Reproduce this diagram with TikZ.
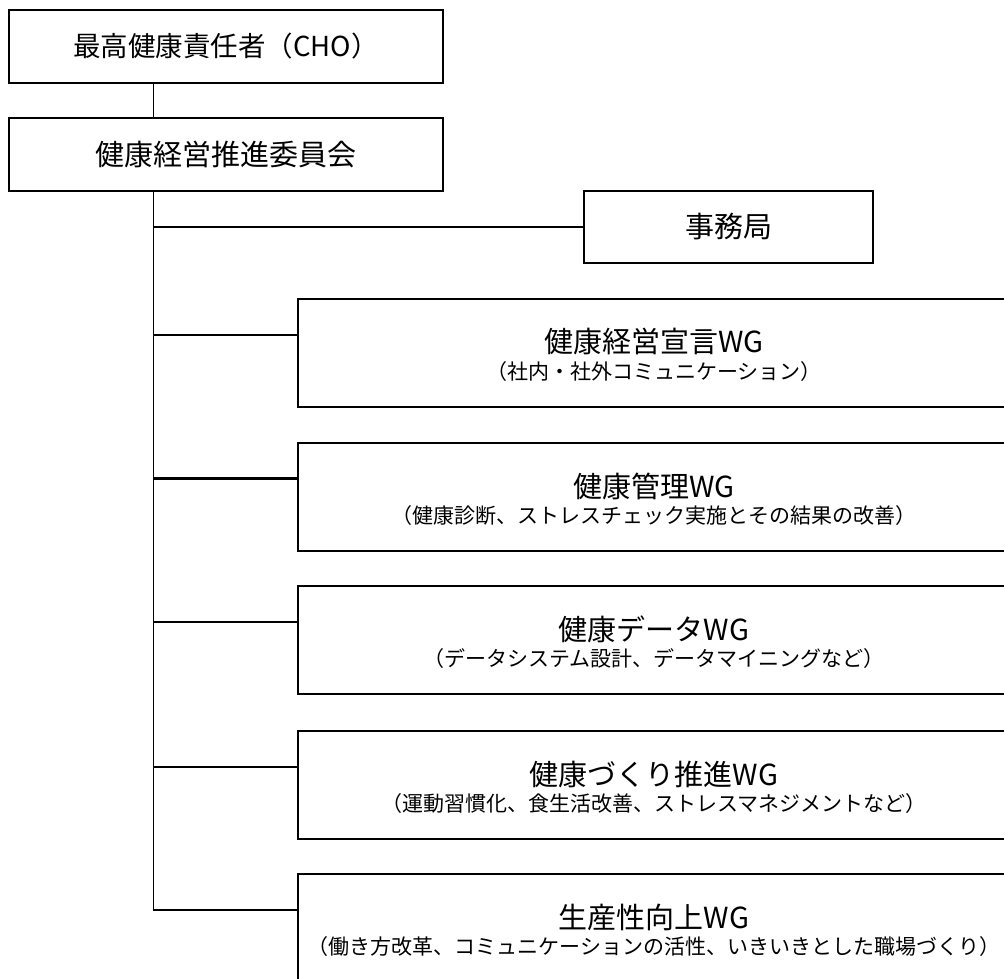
\documentclass[tikz,border=0pt]{standalone}
\usepackage{fontspec}
\setmainfont{Noto Sans CJK JP}
\usetikzlibrary{calc,positioning}

\begin{document}
\begin{tikzpicture}[
  x=1pt, y=-1pt,
  box/.style={draw, rectangle, line width=1.5pt, inner sep=0pt},
  link/.style={line width=1.5pt},
  big/.style={font=\fontsize{29}{34}\selectfont},
  small/.style={font=\fontsize{21}{25}\selectfont},
  ]
  \useasboundingbox (0,0) rectangle (1004,978);

  \node (cho) [box, big, minimum width=434pt, minimum height=73pt, font=\fontsize{27.5}{32}\selectfont] at (226,46.5) {最高健康責任者（CHO）};
  \node (committee) [box, big, minimum width=434pt, minimum height=73pt] at (226,154.5) {健康経営推進委員会};
  \node (office) [box, big, minimum width=289pt, minimum height=72pt] at (728.5,227) {事務局};

  \draw[link] ($(cho.south west)!1/3!(cho.south east)$) -- ($(committee.north west)!1/3!(committee.north east)$);
  \coordinate (trunk_top) at ($(committee.south west)!1/3!(committee.south east)$);
  \draw[link] (trunk_top |- office.west) -- (office.west);

  \foreach \i/\y/\lw/\t/\s in {
    1/353/1.5pt/健康経営宣言WG/（社内・社外コミュニケーション）,
    2/497/2.8pt/健康管理WG/（健康診断、ストレスチェック実施とその結果の改善）,
    3/640/1.5pt/健康データWG/（データシステム設計、データマイニングなど）,
    4/785/1.5pt/健康づくり推進WG/（運動習慣化、食生活改善、ストレスマネジメントなど）,
    5/928/1.5pt/生産性向上WG/（働き方改革、コミュニケーションの活性、いきいきとした職場づくり）}
  {
    \node (wg_\i) [box, minimum width=712pt, minimum height=108pt] at (654,\y) {};
    \node (wg_\i_title) [big] at ($(wg_\i.center)+(0,-11)$) {\t};
    \node (wg_\i_sub) [small] at ($(wg_\i.center)+(0,19)$) {\s};
    \coordinate (wg_\i_in) at ($(wg_\i.north west)!1/3!(wg_\i.south west)$);
    \draw[line width=\lw] (trunk_top |- wg_\i_in) -- (wg_\i_in);
  }

  \draw[link] (trunk_top) |- (wg_5_in);

\end{tikzpicture}
\end{document}
